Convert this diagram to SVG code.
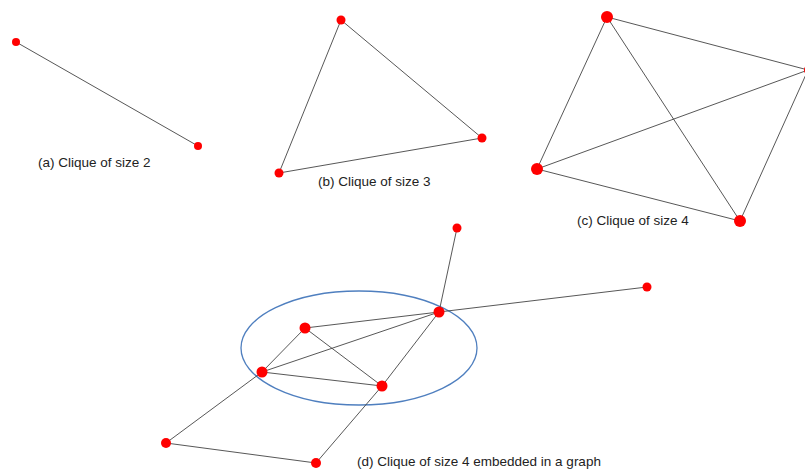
<svg xmlns="http://www.w3.org/2000/svg" width="805" height="469" viewBox="0 0 805 469">
<style>
.e line{stroke:#444;stroke-width:0.9}
.n{fill:#ff0000}
.t{font-family:"Liberation Sans",Arial,sans-serif;font-size:13.5px;fill:#222}
</style>
<rect width="805" height="469" fill="#fff"/>
<ellipse cx="359" cy="348" rx="118" ry="57" fill="none" stroke="#4f7fbf" stroke-width="1.3"/>
<g id="edges" class="e">
<line x1="16" y1="42" x2="198" y2="146"/>
<line x1="341" y1="20" x2="482" y2="138"/>
<line x1="341" y1="20" x2="279" y2="173"/>
<line x1="279" y1="173" x2="482" y2="138"/>
<line x1="607" y1="17" x2="808" y2="70"/>
<line x1="607" y1="17" x2="537" y2="169"/>
<line x1="607" y1="17" x2="740" y2="221"/>
<line x1="537" y1="169" x2="808" y2="70"/>
<line x1="537" y1="169" x2="740" y2="221"/>
<line x1="740" y1="221" x2="808" y2="70"/>
<line x1="457" y1="228" x2="439" y2="312"/>
<line x1="647" y1="287" x2="439" y2="312"/>
<line x1="439" y1="312" x2="305" y2="328"/>
<line x1="439" y1="312" x2="262" y2="372"/>
<line x1="439" y1="312" x2="382" y2="386"/>
<line x1="305" y1="328" x2="262" y2="372"/>
<line x1="305" y1="328" x2="382" y2="386"/>
<line x1="262" y1="372" x2="382" y2="386"/>
<line x1="262" y1="372" x2="166" y2="443"/>
<line x1="166" y1="443" x2="316" y2="463"/>
<line x1="382" y1="386" x2="316" y2="463"/>
</g>
<g id="a1"><circle class="n" cx="16" cy="42" r="4"/></g>
<g id="a2"><circle class="n" cx="198" cy="146" r="4"/></g>
<g id="b1"><circle class="n" cx="341" cy="20" r="4.5"/></g>
<g id="b2"><circle class="n" cx="482" cy="138" r="4.5"/></g>
<g id="b3"><circle class="n" cx="279" cy="173" r="4.5"/></g>
<g id="c1"><circle class="n" cx="607" cy="17" r="6"/></g>
<g id="c2"><circle class="n" cx="810" cy="70" r="6"/></g>
<g id="c3"><circle class="n" cx="537" cy="169" r="6"/></g>
<g id="c4"><circle class="n" cx="740" cy="221" r="6"/></g>
<g id="d1"><circle class="n" cx="457" cy="228" r="4.5"/></g>
<g id="d2"><circle class="n" cx="647" cy="287" r="4.5"/></g>
<g id="d3"><circle class="n" cx="439" cy="312" r="5.5"/></g>
<g id="d4"><circle class="n" cx="305" cy="328" r="5.5"/></g>
<g id="d5"><circle class="n" cx="262" cy="372" r="5.5"/></g>
<g id="d6"><circle class="n" cx="382" cy="386" r="5.5"/></g>
<g id="d7"><circle class="n" cx="166" cy="443" r="5"/></g>
<g id="d8"><circle class="n" cx="316" cy="463" r="5"/></g>
<g id="labels">
<text class="t" x="38" y="167">(a) Clique of size 2</text>
<text class="t" x="318" y="186">(b) Clique of size 3</text>
<text class="t" x="577" y="225">(c) Clique of size 4</text>
<text class="t" x="357" y="466">(d) Clique of size 4 embedded in a graph</text>
</g>
</svg>
